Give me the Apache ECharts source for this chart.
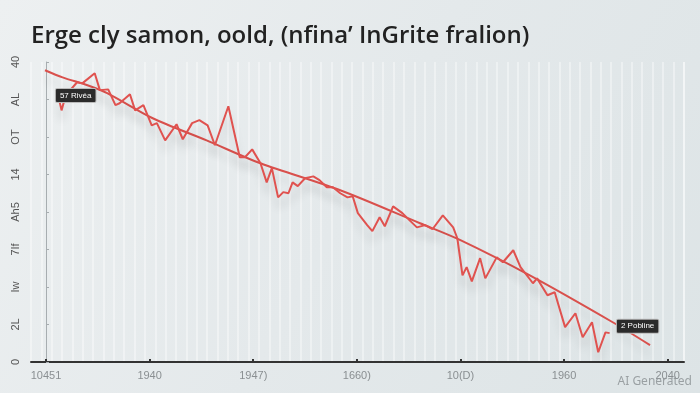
<!DOCTYPE html>
<html>
<head>
<meta charset="utf-8">
<script src="https://cdn.jsdelivr.net/npm/echarts@6/dist/echarts.min.js"></script>
<style>
html,body{margin:0;padding:0;}
#c{width:700px;height:393px;}
</style>
</head>
<body>
<div id="c"></div>
<script>
var titleText = "Erge cly samon, oold, (nfina\u2019 InGrite fralion)";
var xTickLabels = ["10451", "1940", "1947)", "1660)", "10(D)", "1960", "2040"];
var yTickLabels = ["0", "2L", "Iw", "7If", "Ah5", "14", "OT", "AL", "40"];

var seriesX = [0.11,0.15,0.19,0.30,0.35,0.47,0.52,0.60,0.67,0.71,0.81,0.86,0.94,1.02,1.07,1.15,1.26,1.32,1.41,1.48,1.56,1.63,1.76,1.87,1.92,1.99,2.07,2.13,2.18,2.24,2.29,2.34,2.38,2.43,2.50,2.58,2.64,2.71,2.77,2.84,2.91,2.96,3.01,3.10,3.15,3.22,3.27,3.35,3.44,3.49,3.58,3.66,3.73,3.83,3.93,3.97,4.02,4.06,4.11,4.19,4.24,4.35,4.41,4.51,4.58,4.70,4.74,4.84,4.91,5.01,5.11,5.18,5.27,5.33,5.40,5.44];
var seriesY = [7.19,6.71,7.11,7.46,7.43,7.70,7.25,7.27,6.85,6.90,7.14,6.71,6.85,6.31,6.37,5.91,6.34,5.94,6.37,6.45,6.31,5.78,6.82,5.46,5.46,5.67,5.30,4.79,5.17,4.39,4.53,4.50,4.79,4.69,4.90,4.95,4.85,4.66,4.66,4.50,4.39,4.42,3.97,3.65,3.49,3.86,3.62,4.15,3.97,3.83,3.59,3.65,3.54,3.91,3.59,3.30,2.31,2.53,2.15,2.77,2.23,2.79,2.66,2.98,2.53,2.10,2.23,1.78,1.86,0.93,1.30,0.66,1.06,0.26,0.79,0.77];

var trendX = [-0.01,0.16,0.40,0.59,1.03,1.55,2.07,2.84,3.61,4.00,4.67,5.47,5.83];
var trendY = [7.78,7.59,7.38,7.17,6.50,5.91,5.30,4.58,3.70,3.25,2.31,1.06,0.45];

var calloutTexts = ["57 Riv\u00e9a", "2 Pobline"];
var calloutIdx = [2, seriesX.length - 1];

function pairs(xs, ys) { return xs.map(function (x, i) { return [x, ys[i]]; }); }

var mainData = pairs(seriesX, seriesY).map(function (p, i) {
  var k = calloutIdx.indexOf(i);
  if (k < 0) return p;
  return {
    value: p,
    label: {
      show: true,
      formatter: calloutTexts[k],
      position: 'inside',
      offset: k === 0 ? [10, 0] : [28, -7],
      color: '#fff',
      fontSize: 8,
      fontFamily: 'Liberation Sans Narrow, Arial Narrow, sans-serif',
      backgroundColor: '#2b2b2b',
      borderColor: '#bbb',
      borderWidth: 1,
      borderRadius: 1,
      padding: [3, 4, 2, 4]
    }
  };
});

var chart = echarts.init(document.getElementById('c'), null, {renderer: 'canvas'});
chart.setOption({
  animation: false,
  backgroundColor: {
    type: 'linear', x: 0, y: 0, x2: 1, y2: 1,
    colorStops: [
      {offset: 0, color: '#edf0f1'},
      {offset: 0.5, color: '#e4e9eb'},
      {offset: 1, color: '#dde4e6'}
    ]
  },
  title: {
    text: titleText,
    left: 26, top: 19,
    textStyle: {fontFamily: 'Open Sans', fontSize: 24, fontWeight: 600, color: '#222'}
  },
  graphic: [{
    type: 'text', right: 8, bottom: 5,
    style: {text: 'AI Generated', fill: '#9aa0a3', font: '12px Noto Sans'}
  }],
  grid: {left: 31, right: 16, top: 62, bottom: 31},
  xAxis: [{
    type: 'value', min: -0.145, max: 6.158,
    axisLine: {show: true, lineStyle: {color: '#333', width: 2}},
    axisTick: {show: true, inside: true, length: 3, customValues: [0,1,2,3,4,5,6], lineStyle: {color: '#333', width: 2}},
    axisLabel: {
      customValues: [0,1,2,3,4,5,6],
      formatter: function (v) { return xTickLabels[Math.round(v)]; },
      color: '#8a8f92', fontSize: 11, margin: 8, fontFamily: 'Liberation Sans Narrow, sans-serif'
    },
    splitLine: {show: false}
  }, {
    type: 'value', min: -0.145, max: 6.158, interval: 0.1, position: 'bottom',
    axisLine: {show: false}, axisTick: {show: false}, axisLabel: {show: false},
    splitLine: {show: true, lineStyle: {color: 'rgba(255,255,255,0.5)', width: 1.5}}
  }],
  yAxis: {
    type: 'value', min: 0, max: 8, interval: 1,
    axisLine: {show: true, lineStyle: {color: '#a7adb0', width: 1}},
    axisTick: {show: true, inside: true, length: 3, lineStyle: {color: '#a7adb0'}},
    axisLabel: {
      formatter: function (v) { return yTickLabels[Math.round(v)]; },
      rotate: 90, color: '#555', fontSize: 11, margin: 10,
      fontFamily: 'Liberation Sans Narrow, sans-serif'
    },
    splitLine: {show: false}
  },
  series: [{
    type: 'line', name: 'trend', xAxisIndex: 0,
    data: pairs(trendX, trendY), smooth: 0.3, symbol: 'none',
    lineStyle: {color: '#d9504c', width: 2, shadowColor: 'rgba(0,0,0,0.12)', shadowBlur: 8, shadowOffsetY: 8},
    z: 3
  }, {
    type: 'line', name: 'series', xAxisIndex: 0,
    data: mainData, symbol: 'circle', symbolSize: 0, showSymbol: true,
    lineStyle: {color: '#e0524f', width: 2, shadowColor: 'rgba(0,0,0,0.14)', shadowBlur: 10, shadowOffsetY: 10},
    z: 4
  }]
});
</script>
</body>
</html>
